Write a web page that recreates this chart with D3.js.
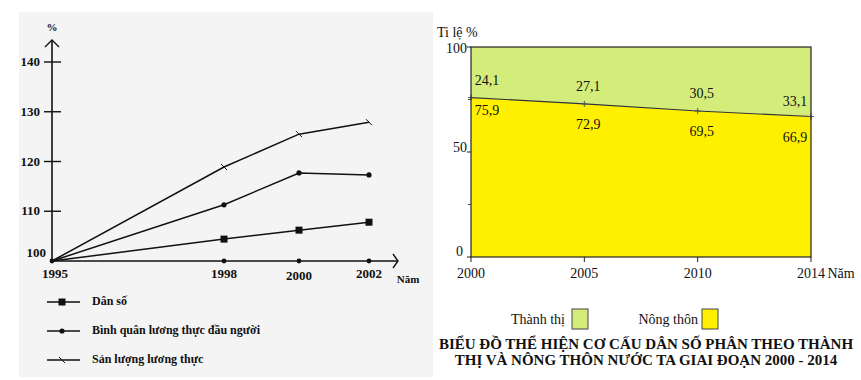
<!DOCTYPE html>
<html><head><meta charset="utf-8">
<script src="https://cdn.jsdelivr.net/npm/d3@7"></script>
<style>
html,body{margin:0;padding:0;background:#fff;}
svg{display:block;}
text{font-family:"Liberation Serif","DejaVu Serif","Times New Roman",serif;}
</style></head>
<body>
<svg id="c" width="861" height="380" font-family="Liberation Serif, DejaVu Serif, serif"></svg>
<script>
// ---------- Left chart data ----------
const leftYears = [1995, 1998, 2000, 2002];
const danSo = [100, 104.4, 106.2, 107.8];
const binhQuan = [100, 111.3, 117.7, 117.3];
const sanLuong = [100, 118.9, 125.5, 127.9];
const leftYTicks = [100, 110, 120, 130, 140];
const leftLegend = ["Dân số", "Bình quân lương thực đầu người", "Sản lượng lương thực"];

// ---------- Right chart data ----------
const rightYears = ["2000", "2005", "2010", "2014"];
const thanhThi = [24.1, 27.1, 30.5, 33.1];
const nongThon = [75.9, 72.9, 69.5, 66.9];
const rightYTicks = [0, 50, 100];
const rightMinorTicks = [25, 75];
const rightLegend = ["Thành thị", "Nông thôn"];
const rightTitle = ["BIỂU ĐỒ THỂ HIỆN CƠ CẤU DÂN SỐ PHÂN THEO THÀNH",
                    "THỊ VÀ NÔNG THÔN NƯỚC TA GIAI ĐOẠN 2000 - 2014"];

const svg = d3.select("#c");
const FF = "Liberation Serif, DejaVu Serif, serif";

// ================= LEFT =================
svg.append("rect").attr("x", 19).attr("y", 12).attr("width", 414).attr("height", 365).attr("fill", "#f4f4f4");

const L = svg.append("g").attr("font-family", FF);
const lx = d3.scaleLinear().domain(leftYears).range([52, 224, 299, 369]);
const ly = d3.scaleLinear().domain([100, 140]).range([261, 62]);
const ink = "#111";

// axes
L.append("line").attr("x1", lx(1995)).attr("x2", lx(1995)).attr("y1", ly(100)).attr("y2", 40).attr("stroke", ink).attr("stroke-width", 1.6);
L.append("path").attr("d", "M45,47L52,40L59,47").attr("fill", "none").attr("stroke", ink).attr("stroke-width", 1.4);
L.append("line").attr("x1", lx(1995)).attr("x2", 398).attr("y1", ly(100)).attr("y2", ly(100)).attr("stroke", ink).attr("stroke-width", 1.6);
L.append("path").attr("d", "M393,254L398,261L393,268").attr("fill", "none").attr("stroke", ink).attr("stroke-width", 1.4);
L.append("text").attr("x", 52).attr("y", 31).attr("text-anchor", "middle").attr("font-size", 11).attr("font-weight", "bold").attr("fill", ink).text("%");

// y ticks
leftYTicks.forEach(t => {
  if (t !== 100) {
    L.append("line").attr("x1", 44).attr("x2", 61).attr("y1", ly(t)).attr("y2", ly(t)).attr("stroke", ink).attr("stroke-width", 1.4);
    L.append("text").attr("x", 40).attr("y", ly(t) + 4).attr("text-anchor", "end").attr("font-size", 13).attr("font-weight", "bold").attr("fill", ink).text(t);
  } else {
    L.append("text").attr("x", 46).attr("y", ly(t) - 4).attr("text-anchor", "end").attr("font-size", 13).attr("font-weight", "bold").attr("fill", ink).text(t);
  }
});
// x labels + axis dots
leftYears.forEach((yr, i) => {
  L.append("text").attr("x", lx(yr) + (i === 0 ? 3 : 0)).attr("y", 278 + (yr === 2000 ? 2 : 0)).attr("text-anchor", "middle").attr("font-size", 13).attr("font-weight", "bold").attr("fill", ink).text(yr);
  L.append("circle").attr("cx", lx(yr)).attr("cy", ly(100)).attr("r", 2.4).attr("fill", ink);
});
L.append("text").attr("x", 408).attr("y", 283).attr("text-anchor", "middle").attr("font-size", 11).attr("font-weight", "bold").attr("fill", ink).text("Năm");

const lineGen = d3.line().x((d, i) => lx(leftYears[i])).y(d => ly(d));
const series = [danSo, binhQuan, sanLuong];
const markerTypes = ["square", "dot", "cross"];
function marker(g, type, x, y) {
  if (type === "square") g.append("rect").attr("x", x - 3.5).attr("y", y - 3.5).attr("width", 7).attr("height", 7).attr("fill", ink);
  else if (type === "dot") g.append("circle").attr("cx", x).attr("cy", y).attr("r", 2.6).attr("fill", ink);
  else g.append("path").attr("d", `M${x - 3},${y - 3}L${x + 3},${y + 3}`).attr("stroke", ink).attr("stroke-width", 1);
}
series.forEach((s, k) => {
  L.append("path").attr("d", lineGen(s)).attr("fill", "none").attr("stroke", ink).attr("stroke-width", 1.5);
  s.forEach((v, i) => { if (i > 0) marker(L, markerTypes[k], lx(leftYears[i]), ly(v)); });
});

// legend
leftLegend.forEach((name, k) => {
  const yy = 302 + k * 29;
  L.append("line").attr("x1", 47).attr("x2", 80).attr("y1", yy).attr("y2", yy).attr("stroke", ink).attr("stroke-width", 1.5);
  marker(L, markerTypes[k], 62, yy);
  L.append("text").attr("x", 92).attr("y", yy + 3).attr("font-size", 12).attr("font-weight", "bold").attr("fill", ink).text(name);
});

// ================= RIGHT =================
const R = svg.append("g").attr("font-family", FF);
const rx = d3.scalePoint().domain(rightYears).range([471, 811]);
const ry = d3.scaleLinear().domain([0, 100]).range([257, 47]);

const tbl = rightYears.map((y, i) => ({ year: y, nong: nongThon[i], thanh: thanhThi[i] }));
const stacked = d3.stack().keys(["nong", "thanh"])(tbl);
const colors = { nong: "#fff000", thanh: "#d4ec7a" };
const area = d3.area().x(d => rx(d.data.year)).y0(d => ry(d[0])).y1(d => ry(d[1]));
stacked.forEach(layer => {
  R.append("path").attr("d", area(layer)).attr("fill", colors[layer.key]);
});
// boundary line
const bline = d3.line().x((d, i) => rx(rightYears[i])).y(d => ry(d));
R.append("path").attr("d", bline(nongThon)).attr("fill", "none").attr("stroke", "#333").attr("stroke-width", 1.1);
nongThon.forEach((v, i) => {
  const x = rx(rightYears[i]), y = ry(v);
  R.append("path").attr("d", `M${x - 3},${y}L${x + 3},${y}M${x},${y - 3}L${x},${y + 3}`).attr("stroke", "#556").attr("stroke-width", 1);
});
// frame
R.append("rect").attr("x", 471).attr("y", 47).attr("width", 340).attr("height", 210).attr("fill", "none").attr("stroke", "#222").attr("stroke-width", 1.2);

// y ticks
rightYTicks.forEach(t => {
  R.append("line").attr("x1", 467).attr("x2", 471).attr("y1", ry(t)).attr("y2", ry(t)).attr("stroke", "#222");
  R.append("text").attr("x", t === 0 ? 463 : 467).attr("y", ry(t) + (t === 100 ? 6 : t === 0 ? -1 : 0)).attr("text-anchor", "end").attr("font-size", 14).attr("fill", "#111").text(t);
});
rightMinorTicks.forEach(t => {
  R.append("line").attr("x1", 468).attr("x2", 471).attr("y1", ry(t)).attr("y2", ry(t)).attr("stroke", "#444");
});
// x ticks
rightYears.forEach(y => {
  R.append("line").attr("x1", rx(y)).attr("x2", rx(y)).attr("y1", 257).attr("y2", 262).attr("stroke", "#222");
  R.append("text").attr("x", rx(y)).attr("y", 278).attr("text-anchor", "middle").attr("font-size", 14).attr("fill", "#111").text(y);
});
R.append("text").attr("x", 841).attr("y", 278).attr("text-anchor", "middle").attr("font-size", 14).attr("fill", "#111").text("Năm");
R.append("text").attr("x", 437).attr("y", 37).attr("font-size", 14).attr("fill", "#111").text("Ti lệ %");

// value labels
const fmt = v => String(v).replace(".", ",");
const labOff = [16, 4, 4, -16];
rightYears.forEach((y, i) => {
  const x = rx(y) + labOff[i];
  const yb = ry(nongThon[i]);
  R.append("text").attr("x", x).attr("y", yb - 11 - (i === 3 ? 0 : 2)).attr("text-anchor", "middle").attr("font-size", 14).attr("fill", "#111").text(fmt(thanhThi[i]));
  R.append("text").attr("x", x).attr("y", yb + 17 + (i === 0 ? 0 : 8)).attr("text-anchor", "middle").attr("font-size", 14).attr("fill", "#111").text(fmt(nongThon[i]));
});

// legend
R.append("text").attr("x", 565).attr("y", 324).attr("text-anchor", "end").attr("font-size", 14).attr("fill", "#111").text(rightLegend[0]);
R.append("rect").attr("x", 572).attr("y", 309).attr("width", 16).attr("height", 20).attr("fill", colors.thanh).attr("stroke", "#444");
R.append("text").attr("x", 698).attr("y", 324).attr("text-anchor", "end").attr("font-size", 14).attr("fill", "#111").text(rightLegend[1]);
R.append("rect").attr("x", 702).attr("y", 309).attr("width", 16).attr("height", 20).attr("fill", colors.nong).attr("stroke", "#444");

// title
rightTitle.forEach((t, i) => {
  R.append("text").attr("x", 646).attr("y", 349 + i * 16).attr("text-anchor", "middle").attr("font-size", 15).attr("font-weight", "bold").attr("fill", "#111").text(t);
});
</script>
</body></html>
